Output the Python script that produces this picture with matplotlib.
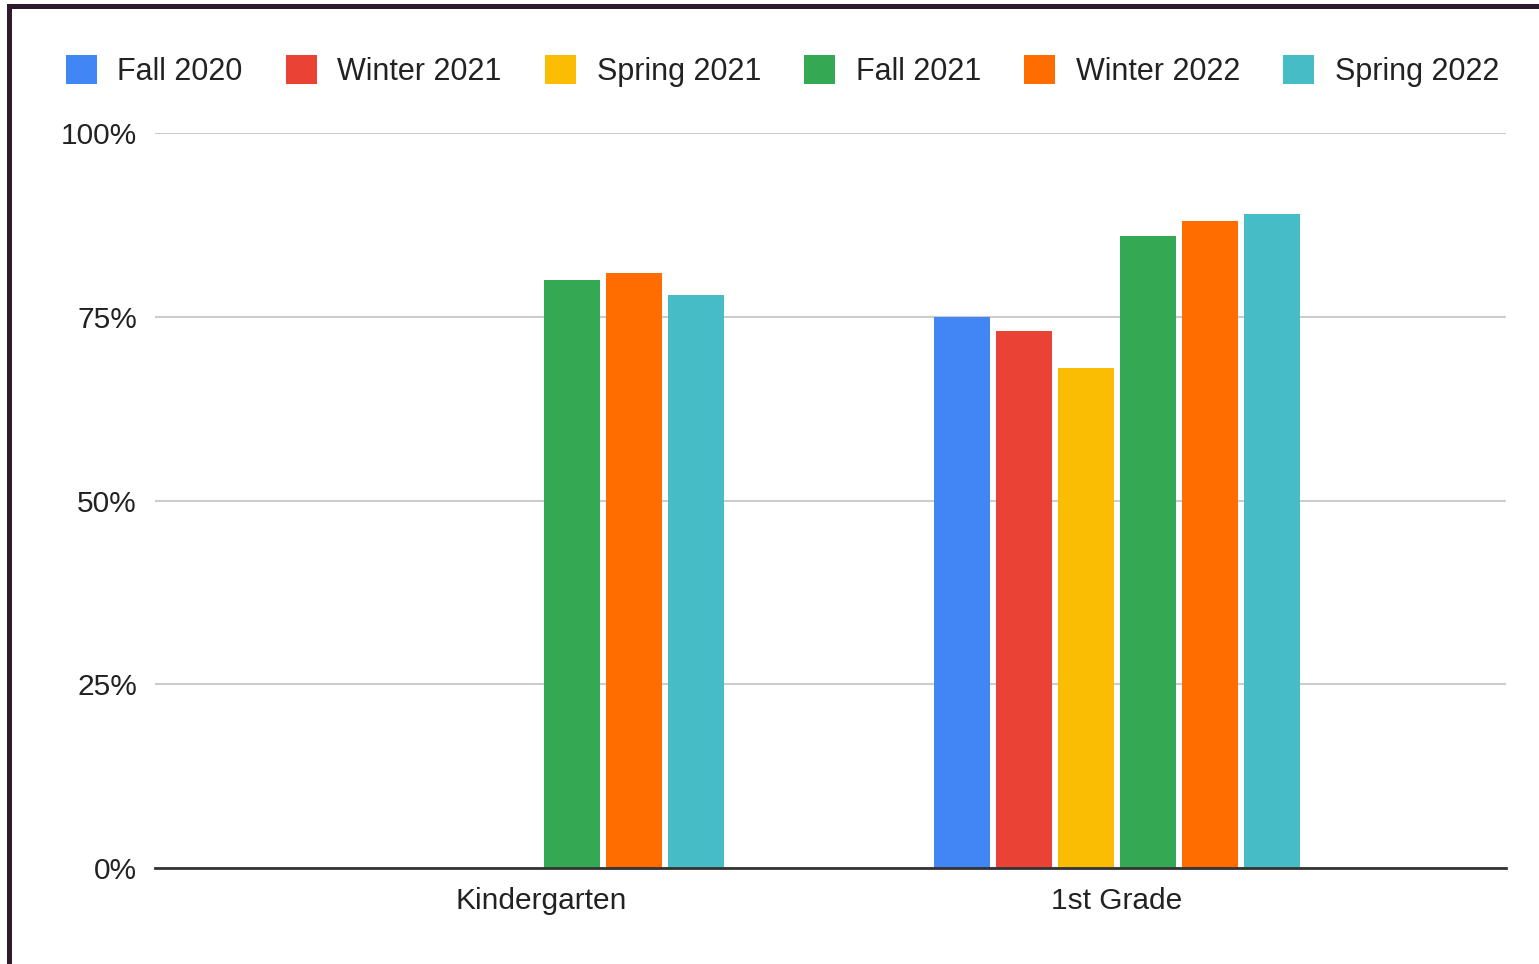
import numpy as np
import matplotlib
matplotlib.use("Agg")
from matplotlib import pyplot as plt
from matplotlib.patches import Rectangle, Patch

plt.rcParams['font.family'] = ['Liberation Sans', 'DejaVu Sans']

grades = ["Kindergarten", "1st Grade"]
terms = ["Fall 2020", "Winter 2021", "Spring 2021", "Fall 2021", "Winter 2022", "Spring 2022"]
colors = ["#4285F4", "#EA4335", "#FBBC04", "#34A853", "#FF6D01", "#46BDC6"]
# percent per term, [Kindergarten, 1st Grade]; nan = no data
fall_2020 = [np.nan, 75]
winter_2021 = [np.nan, 73]
spring_2021 = [np.nan, 68]
fall_2021 = [80, 86]
winter_2022 = [81, 88]
spring_2022 = [78, 89]
series = [fall_2020, winter_2021, spring_2021, fall_2021, winter_2022, spring_2022]
yticks = [0, 25, 50, 75, 100]
ytick_labels = ["0%", "25%", "50%", "75%", "100%"]

W, H = 1539, 964
fig = plt.figure(figsize=(W / 100, H / 100), dpi=100)
ax = fig.add_axes([155 / W, 1 - 868 / H, (1506 - 155) / W, (868 - 133) / H])

x = np.arange(len(grades))
slot = 0.1076
width = 0.0972
for i, (vals, c) in enumerate(zip(series, colors)):
    ax.bar(x + (i - 2.5) * slot, vals, width=width, color=c, zorder=3)

ax.set_xlim(-0.670, 1.675)
ax.set_ylim(0, 100)
ax.set_yticks(yticks)
ax.set_yticklabels(ytick_labels)
ax.set_xticks(x)
ax.set_xticklabels(grades)
ax.tick_params(axis='y', length=0, pad=13, labelsize=21.5, labelcolor="#222222")
ax.tick_params(axis='x', length=0, pad=14, labelsize=21.5, labelcolor="#222222")
for s in ["top", "right", "left"]:
    ax.spines[s].set_visible(False)
ax.spines["bottom"].set_color("#333333")
ax.spines["bottom"].set_linewidth(2)
ax.spines["bottom"].set_zorder(4)
ax.yaxis.grid(True, color="#cccccc", linewidth=1.5, zorder=0)

handles = [Patch(facecolor=c, edgecolor="none", label=t) for t, c in zip(terms, colors)]
fig.legend(handles=handles, loc="center left", bbox_to_anchor=(66 / W, 1 - 71 / H),
           ncol=6, frameon=False, fontsize=22, handlelength=1.0, handleheight=1.1,
           handletextpad=0.68, columnspacing=1.42, borderpad=0, borderaxespad=0,
           labelcolor="#222222")

# dark frame edges on top and left
border = "#2d1a2b"
fig.patches.append(Rectangle((7 / W, 1 - 9 / H), 1 - 7 / W, 5 / H, transform=fig.transFigure,
                             facecolor=border, edgecolor="none"))
fig.patches.append(Rectangle((7 / W, 0), 5 / W, 1 - 4 / H, transform=fig.transFigure,
                             facecolor=border, edgecolor="none"))

fig.savefig("out.png", dpi=100)
